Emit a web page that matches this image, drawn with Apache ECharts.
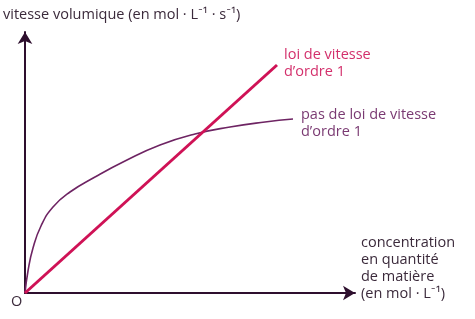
<!DOCTYPE html>
<html><head><meta charset="utf-8">
<script src="https://cdn.jsdelivr.net/npm/echarts@6/dist/echarts.min.js"></script>
<style>html,body{margin:0;padding:0;background:#fff}#c{width:475px;height:319px}</style>
</head><body><div id="c"></div>
<script>
// values in arbitrary units
var linearX = [0, 252];
var linearY = [0, 228];
var curveX = [0, 3, 8, 16, 28, 45, 70, 100, 135, 170, 205, 240, 268];
var curveY = [0, 22, 45, 67, 86, 101, 116, 132, 148, 159, 166, 171, 174];
var yTitle = 'vitesse volumique (en mol · L⁻¹ · s⁻¹)';
var xTitle = 'concentration\nen quantité\nde matière\n(en mol · L⁻¹)';
var linearLabel = 'loi de vitesse\nd’ordre 1';
var curveLabel = 'pas de loi de vitesse\nd’ordre 1';
var originLabel = 'O';

function zip(a, b){ return a.map(function(v,i){ return [v, b[i]]; }); }
var font = '"Open Sans", Lato, sans-serif';
var fs = '14.5px ';
var chart = echarts.init(document.getElementById('c'), null, {renderer:'canvas'});
chart.setOption({
  animation: false,
  grid: {left: 25, top: 32, right: 120, bottom: 26, containLabel: false},
  xAxis: {type:'value', min:0, max:330, axisLabel:{show:false}, axisTick:{show:false}, splitLine:{show:false},
    axisLine:{show:true, onZero:false, symbol:['none','arrow'], symbolSize:[11,12], lineStyle:{color:'#2e0f2e', width:2}}},
  yAxis: {type:'value', min:0, max:261, axisLabel:{show:false}, axisTick:{show:false}, splitLine:{show:false},
    axisLine:{show:true, onZero:false, symbol:['none','arrow'], symbolSize:[11,12], lineStyle:{color:'#2e0f2e', width:2}}},
  series: [
    {type:'line', data: zip(curveX, curveY), smooth:0.5, showSymbol:false, lineStyle:{color:'#6e2463', width:1.6}, z:3},
    {type:'line', data: zip(linearX, linearY), showSymbol:false, lineStyle:{color:'#cf1256', width:3}, z:4}
  ],
  graphic: [
    {type:'text', left:3, top:7, style:{text:yTitle, font:fs+font, fill:'#3b2a3b'}},
    {type:'text', left:284, top:46, style:{text:linearLabel, font:fs+font, fill:'#d3306c', lineHeight:17}},
    {type:'text', left:301, top:106, style:{text:curveLabel, font:fs+font, fill:'#7a3a72', lineHeight:17}},
    {type:'text', left:361, top:234, style:{text:xTitle, font:fs+font, fill:'#3b2a3b', lineHeight:17}},
    {type:'text', left:11, top:294, style:{text:originLabel, font:fs+font, fill:'#3b2a3b'}}
  ]
});
</script></body></html>
